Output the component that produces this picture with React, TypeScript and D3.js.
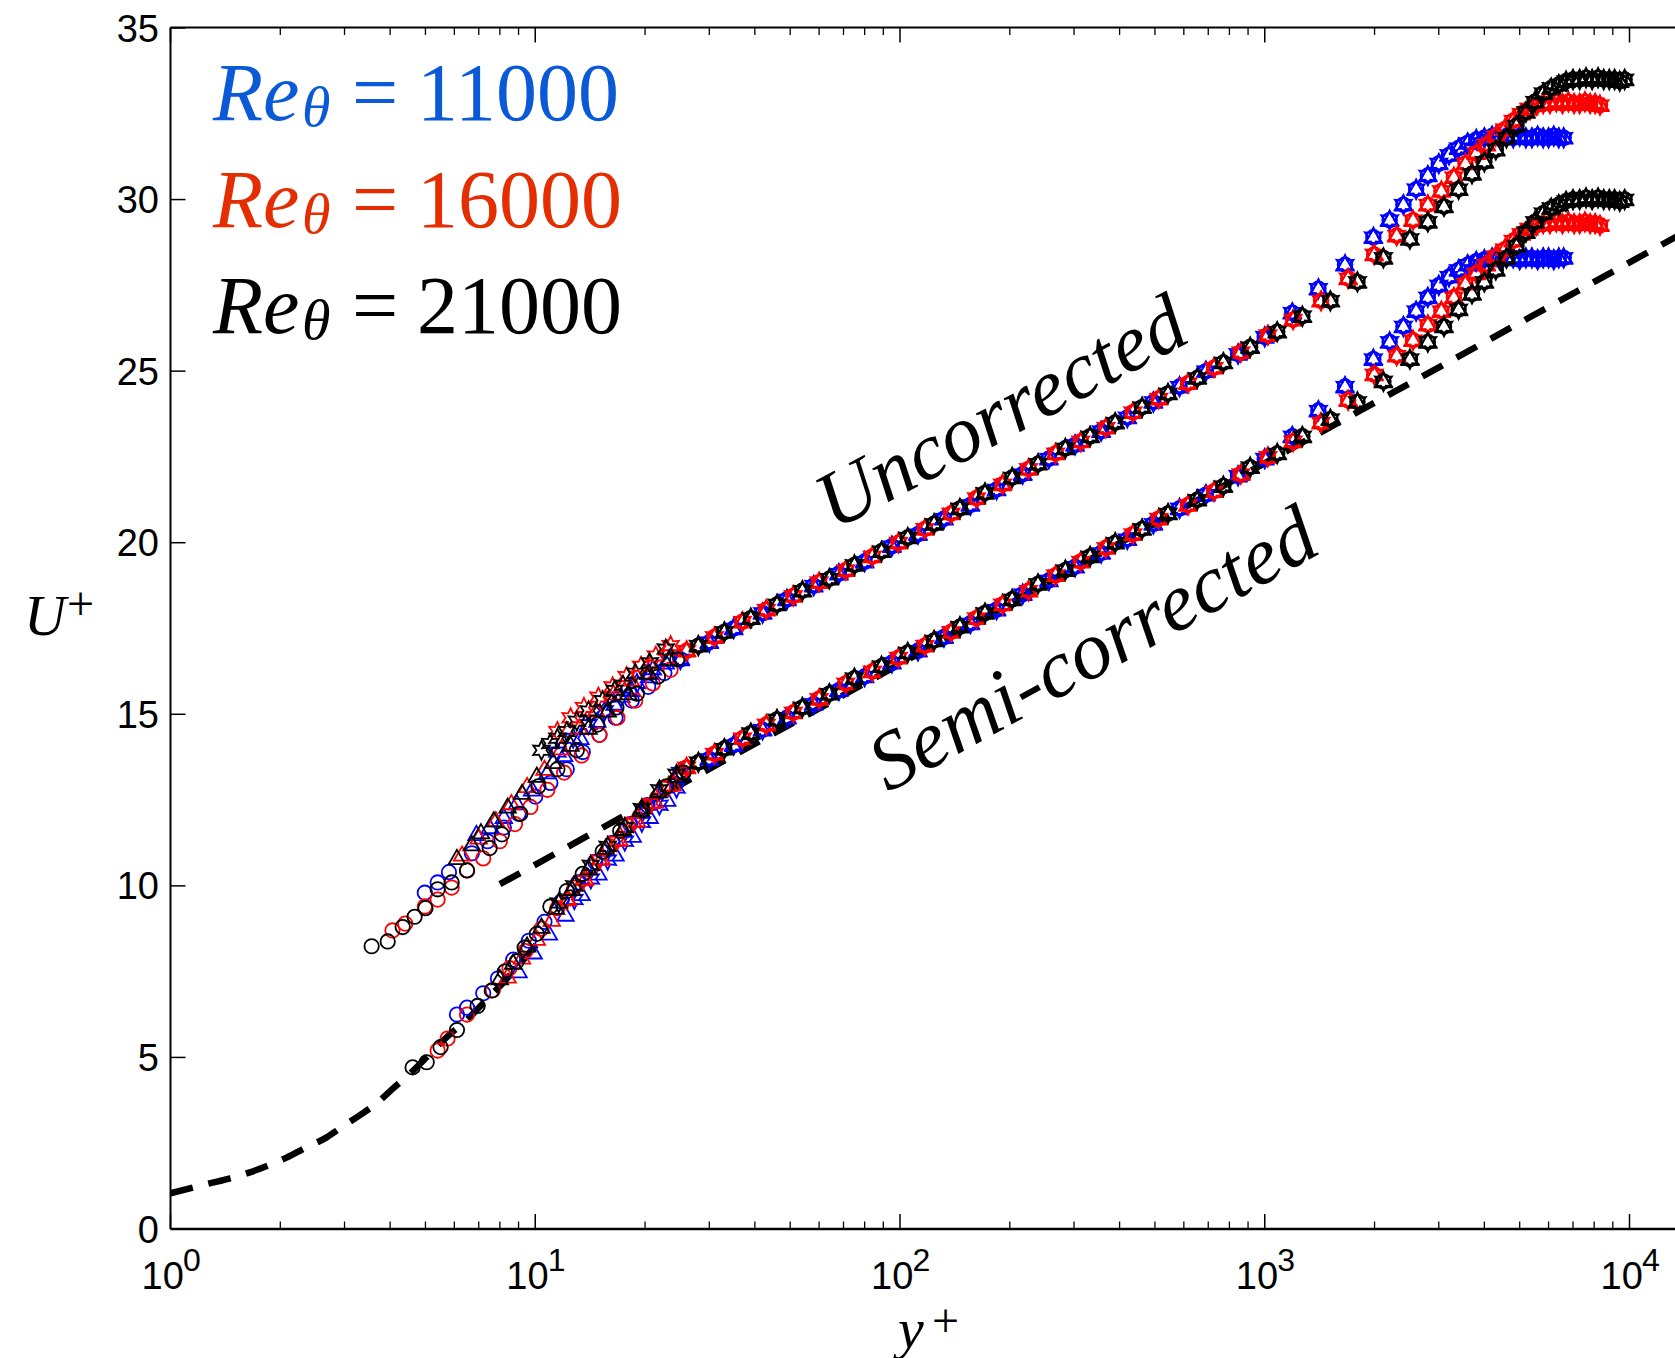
import React from 'react';
import * as d3 from 'd3';

// ---------------- DATA ----------------
const reLabels = ['11000', '16000', '21000'];
const markerColors = ['#0000ff', '#ff0000', '#000000'];
const legendColors = ['#0a5ad8', '#e42d00', '#000000'];
const yTicks = [0, 5, 10, 15, 20, 25, 30, 35];
const xDecades = [0, 1, 2, 3, 4];

// outer region: all three probes (circle, triangle, star) at the same y+
const yOuterBlue = [25, 30, 35, 42, 49, 58, 68, 80, 95, 112, 132, 156, 184, 217, 256, 302, 356, 420, 495, 584, 690, 845, 1000, 1190, 1403, 1660, 1985, 2200, 2400, 2600, 2800, 3000, 3200, 3400, 3600, 3800, 4000, 4200, 4400, 4600, 4800, 5000, 5200, 5400, 5600, 5800, 6000, 6200, 6400, 6600];
const uUncBlue = [16.6, 17.1, 17.5, 17.95, 18.35, 18.75, 19.1, 19.45, 19.9, 20.25, 20.7, 21.1, 21.55, 22.0, 22.45, 22.85, 23.25, 23.65, 24.1, 24.55, 25.0, 25.5, 26.0, 26.7, 27.4, 28.1, 28.9, 29.4, 29.85, 30.3, 30.7, 31.05, 31.3, 31.5, 31.65, 31.75, 31.8, 31.85, 31.8, 31.85, 31.8, 31.85, 31.8, 31.8, 31.85, 31.8, 31.8, 31.85, 31.8, 31.8];
const uSemiBlue = [13.3, 13.7, 14.1, 14.55, 14.9, 15.3, 15.7, 16.1, 16.5, 16.85, 17.25, 17.65, 18.05, 18.5, 18.9, 19.3, 19.7, 20.1, 20.55, 21.0, 21.4, 21.95, 22.45, 23.1, 23.85, 24.55, 25.35, 25.85, 26.3, 26.75, 27.15, 27.5, 27.75, 27.95, 28.1, 28.2, 28.25, 28.3, 28.25, 28.3, 28.3, 28.25, 28.3, 28.3, 28.25, 28.3, 28.3, 28.25, 28.3, 28.3];

const yOuterRed = [26, 31, 37, 43, 51, 60, 71, 84, 99, 117, 138, 162, 191, 225, 267, 313, 367, 435, 512, 616, 726, 860, 1020, 1196, 1427, 1693, 1995, 2300, 2550, 2800, 3050, 3300, 3550, 3800, 4050, 4300, 4550, 4800, 5050, 5300, 5550, 5800, 6050, 6300, 6550, 6800, 7050, 7300, 7550, 7800, 8050, 8300];
const uUncRed = [16.85, 17.25, 17.7, 18.05, 18.45, 18.85, 19.2, 19.6, 20.0, 20.4, 20.85, 21.3, 21.7, 22.15, 22.6, 22.95, 23.35, 23.8, 24.2, 24.65, 25.1, 25.55, 26.05, 26.5, 27.05, 27.7, 28.4, 28.95, 29.4, 29.85, 30.25, 30.65, 31.05, 31.35, 31.6, 31.85, 32.05, 32.3, 32.5, 32.65, 32.75, 32.8, 32.8, 32.85, 32.8, 32.85, 32.8, 32.8, 32.85, 32.8, 32.8, 32.75];
const uSemiRed = [13.45, 13.85, 14.3, 14.7, 15.05, 15.45, 15.9, 16.25, 16.65, 17.0, 17.4, 17.8, 18.2, 18.6, 19.05, 19.45, 19.85, 20.25, 20.7, 21.1, 21.5, 22.0, 22.5, 22.95, 23.5, 24.15, 24.9, 25.45, 25.9, 26.35, 26.75, 27.15, 27.55, 27.85, 28.1, 28.35, 28.55, 28.8, 29.0, 29.15, 29.25, 29.3, 29.3, 29.35, 29.3, 29.35, 29.3, 29.3, 29.35, 29.3, 29.3, 29.25];

const yOuterBlack = [28, 33, 39, 46, 54, 64, 75, 89, 105, 124, 146, 171, 203, 239, 284, 332, 389, 461, 543, 653, 770, 912, 1082, 1268, 1513, 1795, 2115, 2500, 2800, 3100, 3400, 3700, 4000, 4300, 4600, 4900, 5200, 5500, 5800, 6100, 6400, 6700, 7000, 7300, 7600, 7900, 8200, 8500, 8800, 9100, 9400, 9700];
const uUncBlack = [17.0, 17.4, 17.8, 18.2, 18.6, 18.95, 19.35, 19.75, 20.15, 20.55, 21.0, 21.45, 21.9, 22.3, 22.75, 23.1, 23.5, 23.95, 24.35, 24.8, 25.25, 25.7, 26.15, 26.6, 27.05, 27.6, 28.3, 28.85, 29.35, 29.8, 30.3, 30.75, 31.1, 31.45, 31.8, 32.15, 32.55, 32.85, 33.1, 33.25, 33.35, 33.45, 33.5, 33.5, 33.55, 33.5, 33.55, 33.5, 33.5, 33.5, 33.45, 33.5];
const uSemiBlack = [13.6, 14.0, 14.45, 14.85, 15.2, 15.6, 16.05, 16.4, 16.8, 17.15, 17.55, 17.95, 18.35, 18.8, 19.2, 19.6, 20.0, 20.4, 20.85, 21.25, 21.65, 22.2, 22.6, 23.1, 23.6, 24.1, 24.7, 25.35, 25.85, 26.3, 26.8, 27.25, 27.6, 27.95, 28.3, 28.65, 29.05, 29.35, 29.6, 29.75, 29.85, 29.95, 30.0, 30.0, 30.05, 30.0, 30.05, 30.0, 30.0, 30.0, 29.95, 30.0];

// near-wall region, uncorrected  [y+, U+]
const uncCircBlue = [[4.98, 9.8], [5.4, 10.1], [5.8, 10.4], [6.7, 10.95], [7.4, 11.3], [8.2, 11.7], [9.0, 12.1], [10, 12.6], [11, 13.0], [12.2, 13.4], [13.5, 13.9], [15, 14.4], [16.6, 14.9], [18.4, 15.4], [20.4, 15.8], [22.6, 16.2]];
const uncTriBlue = [[6.9, 11.5], [7.5, 11.7], [8.2, 12.0], [8.9, 12.4], [9.8, 12.8], [10.8, 13.3], [12, 13.8], [13.3, 14.3], [14.8, 14.8], [16.5, 15.3], [18.4, 15.7], [20.5, 16.1], [22.8, 16.5]];
const uncStarBlue = [[11.5, 13.9], [12.7, 14.3], [14, 14.7], [15.5, 15.1], [17.2, 15.5], [19, 15.9], [21, 16.3], [23.3, 16.6]];
const uncCircRed = [[4.06, 8.7], [4.4, 8.9], [4.98, 9.4], [5.4, 9.6], [5.9, 9.95], [6.5, 10.45], [7.2, 10.8], [8.0, 11.3], [8.8, 11.8], [9.7, 12.3], [10.8, 12.8], [12, 13.3], [13.4, 13.8], [15, 14.4], [16.8, 14.9], [18.8, 15.4], [21, 15.9], [23.5, 16.3]];
const uncTriRed = [[6.3, 10.9], [7.0, 11.4], [7.8, 11.9], [8.6, 12.4], [9.5, 12.9], [10.6, 13.4], [11.8, 14.0], [13.2, 14.6], [14.7, 15.1], [16.4, 15.6], [18.3, 16.0], [20.5, 16.5], [23, 16.9]];
const uncStarRed = [[11.5, 14.5], [12.5, 14.9], [13.6, 15.2], [14.9, 15.5], [16.3, 15.8], [17.8, 16.1], [19.5, 16.4], [21.4, 16.7], [23.5, 17.0]];
const uncCircBlack = [[3.56, 8.24], [3.94, 8.38], [4.33, 8.8], [4.67, 9.1], [5.0, 9.35], [5.4, 9.9], [5.9, 10.1], [6.5, 10.45], [7.5, 11.1], [8.1, 11.5], [9.1, 12.1], [10.2, 12.9], [11.5, 13.4], [13, 13.95], [14.8, 14.7], [16.7, 15.2], [19, 15.6], [21.7, 16.1], [24.5, 16.6]];
const uncTriBlack = [[6.1, 10.8], [6.7, 11.2], [7.1, 11.55], [7.7, 11.9], [8.4, 12.3], [9.2, 12.7], [10.1, 13.2], [11.2, 13.6], [12.5, 14.1], [14, 14.6], [15.8, 15.1], [18, 15.6], [20.5, 16.2], [23.3, 16.6]];
const uncStarBlack = [[10.4, 13.95], [11, 14.15], [11.5, 14.3], [12.2, 14.5], [13.0, 14.8], [14.0, 15.1], [15.3, 15.4], [16.5, 15.7], [17.4, 15.85], [18.8, 16.2], [20.6, 16.5], [22.8, 16.9]];

// near-wall region, semi-corrected  [y+, U+]
const semiCircBlue = [[6.1, 6.25], [6.5, 6.45], [7.2, 6.87], [7.9, 7.3], [8.7, 7.85], [9.6, 8.4], [10.6, 8.95], [11.8, 9.55], [13.1, 10.1], [14.6, 10.7], [16.3, 11.25], [18.2, 11.8], [20.3, 12.35], [22.7, 12.85]];
const semiTriBlue = [[9.0, 7.5], [9.9, 8.05], [10.9, 8.6], [12.1, 9.15], [13.4, 9.75], [14.9, 10.35], [16.6, 10.9], [18.5, 11.45], [20.6, 12.0], [23, 12.5]];
const semiStarBlue = [[12.8, 9.6], [14.2, 10.2], [15.8, 10.75], [17.6, 11.3], [19.6, 11.85], [21.9, 12.35], [24.4, 12.85]];
const semiCircRed = [[5.4, 5.2], [5.75, 5.55], [6.5, 6.25], [7.65, 6.96], [8.5, 7.6], [9.4, 8.1], [10.4, 8.75], [11.5, 9.35], [12.8, 9.95], [14.3, 10.55], [16, 11.15], [17.9, 11.75], [20, 12.3], [22.4, 12.85], [25, 13.3]];
const semiTriRed = [[8.4, 7.35], [9.2, 7.9], [10.1, 8.45], [11.1, 9.0], [12.3, 9.6], [13.7, 10.2], [15.2, 10.8], [17, 11.35], [19, 11.9], [21.3, 12.45], [23.8, 12.95]];
const semiStarRed = [[12.2, 9.6], [13.5, 10.15], [15, 10.75], [16.7, 11.3], [18.6, 11.85], [20.8, 12.4], [23.2, 12.9]];
const semiCircBlack = [[4.61, 4.71], [5.04, 4.86], [5.5, 5.3], [6.1, 5.8], [6.95, 6.5], [7.6, 6.95], [8.25, 7.5], [8.9, 7.8], [9.35, 8.2], [10.1, 8.6], [11, 9.4], [12.2, 9.85], [13.5, 10.35], [15.3, 11.0], [17.1, 11.6], [19.7, 12.2], [22.9, 12.9], [25.5, 13.3]];
const semiTriBlack = [[8.0, 7.3], [8.7, 7.75], [9.5, 8.25], [10.4, 8.8], [11.4, 9.35], [12.6, 9.9], [14, 10.5], [15.6, 11.1], [17.4, 11.65], [19.5, 12.2], [21.8, 12.75], [24.4, 13.2]];
const semiStarBlack = [[11.6, 9.5], [12.8, 10.0], [14.2, 10.6], [15.8, 11.15], [17.6, 11.7], [19.6, 12.25], [21.9, 12.8], [24.4, 13.25]];

// reference curves (dashed)
const nearWallCurve = [[1, 1.04], [1.28, 1.33], [1.45, 1.47], [1.65, 1.65], [1.83, 1.83], [2.08, 2.08], [2.36, 2.38], [2.68, 2.67], [2.91, 2.93], [3.3, 3.31], [3.67, 3.66], [4.07, 4.09], [4.4, 4.4], [4.82, 4.8], [5.24, 5.2], [5.8, 5.65], [6.5, 6.1], [7.3, 6.65], [8.2, 7.2], [9.2, 7.8], [10.3, 8.4]];
const logLawLine = [[8, 10.05], [20000, 29.93]];

// ---------------- LAYOUT ----------------
const W = 1675;
const H = 1358;
const X0 = 170.5;
const X4 = 1629.5;
const YTOP = 27.5;
const YBOT = 1229;

const x = d3.scaleLog().domain([1, 1e4]).range([X0, X4]);
const y = d3.scaleLinear().domain([0, 35]).range([YBOT, 28]);

const zip = (ys: number[], us: number[]) => ys.map((v, i) => [v, us[i]]);

const triPath = (() => {
  const r = 9.5;
  const p = d3.path();
  for (let k = 0; k < 3; k++) {
    const a = -Math.PI / 2 + (k * 2 * Math.PI) / 3;
    if (k === 0) p.moveTo(r * Math.cos(a), r * Math.sin(a) + 1);
    else p.lineTo(r * Math.cos(a), r * Math.sin(a) + 1);
  }
  p.closePath();
  return p.toString();
})();

const starPath = (() => {
  const ro = 9.5;
  const ri = 5;
  const p = d3.path();
  for (let k = 0; k < 12; k++) {
    const a = -Math.PI / 2 + (k * Math.PI) / 6;
    const r = k % 2 === 0 ? ro : ri;
    if (k === 0) p.moveTo(r * Math.cos(a), r * Math.sin(a));
    else p.lineTo(r * Math.cos(a), r * Math.sin(a));
  }
  p.closePath();
  return p.toString();
})();

type Pt = number[];

function Marks({ pts, shape, color, sw }: { pts: Pt[]; shape: string; color: string; sw: number }) {
  return (
    <g fill="none" stroke={color} strokeWidth={sw}>
      {pts.map((p, i) =>
        shape === 'circle' ? (
          <circle key={i} cx={x(p[0])} cy={y(p[1])} r={7.2} />
        ) : (
          <path key={i} d={shape === 'tri' ? triPath : starPath} transform={`translate(${x(p[0])},${y(p[1])})`} />
        )
      )}
    </g>
  );
}

const series = [
  {
    color: markerColors[0],
    outer: [zip(yOuterBlue, uUncBlue), zip(yOuterBlue, uSemiBlue)],
    circ: [uncCircBlue, semiCircBlue],
    tri: [uncTriBlue, semiTriBlue],
    star: [uncStarBlue, semiStarBlue],
  },
  {
    color: markerColors[1],
    outer: [zip(yOuterRed, uUncRed), zip(yOuterRed, uSemiRed)],
    circ: [uncCircRed, semiCircRed],
    tri: [uncTriRed, semiTriRed],
    star: [uncStarRed, semiStarRed],
  },
  {
    color: markerColors[2],
    outer: [zip(yOuterBlack, uUncBlack), zip(yOuterBlack, uSemiBlack)],
    circ: [uncCircBlack, semiCircBlack],
    tri: [uncTriBlack, semiTriBlack],
    star: [uncStarBlack, semiStarBlack],
  },
];

const line = d3
  .line<number[]>()
  .x((d) => x(d[0]))
  .y((d) => y(d[1]))
  .curve(d3.curveMonotoneX);

const sansFont = "'Liberation Sans', Arial, Helvetica, sans-serif";
const serifFont = "'Liberation Serif', 'Times New Roman', Times, serif";

export default function App() {
  const minorTicks: number[] = [];
  for (let d = 0; d < 5; d++) for (let m = 2; m <= 9; m++) minorTicks.push(m * Math.pow(10, d));
  const majors = xDecades.map((d) => Math.pow(10, d));

  return (
    <svg
      width={W}
      height={H}
      viewBox={`0 0 ${W} ${H}`}
      style={{ position: 'absolute', left: 0, top: 0, background: '#fff' }}
    >
      <defs>
        <clipPath id="plotClip">
          <rect x={X0} y={YTOP} width={W - X0 + 20} height={YBOT - YTOP} />
        </clipPath>
      </defs>
      <rect x={0} y={0} width={W} height={H} fill="#fff" />

      {/* dashed reference curves */}
      <g clipPath="url(#plotClip)" fill="none" stroke="#000" strokeWidth={6.5} strokeDasharray="23 16">
        <path d={line(nearWallCurve) || ''} />
        <path d={line(logLawLine) || ''} />
      </g>

      {/* data markers */}
      <g clipPath="url(#plotClip)">
        {series.map((s, si) => (
          <g key={si}>
            {[0, 1].map((g) => (
              <g key={g}>
                <Marks pts={s.circ[g]} shape="circle" color={s.color} sw={1.8} />
                <Marks pts={s.tri[g]} shape="tri" color={s.color} sw={1.8} />
                <Marks pts={s.star[g]} shape="star" color={s.color} sw={1.8} />
                <Marks pts={s.outer[g]} shape="circle" color={s.color} sw={2.1} />
                <Marks pts={s.outer[g]} shape="tri" color={s.color} sw={2.1} />
                <Marks pts={s.outer[g]} shape="star" color={s.color} sw={2.1} />
              </g>
            ))}
          </g>
        ))}
      </g>

      {/* axes */}
      <g stroke="#000" fill="none">
        <line x1={X0} x2={W + 10} y1={YTOP} y2={YTOP} strokeWidth={2} />
        <line x1={X0} x2={W + 10} y1={YBOT} y2={YBOT} strokeWidth={2.5} />
        <line x1={X0} x2={X0} y1={YTOP} y2={YBOT} strokeWidth={2} />
        {majors.map((v, i) => (
          <g key={'M' + i} strokeWidth={1.5}>
            <line x1={x(v)} x2={x(v)} y1={YBOT} y2={YBOT - 15} />
            <line x1={x(v)} x2={x(v)} y1={YTOP} y2={YTOP + 15} />
          </g>
        ))}
        {minorTicks.map((v, i) => (
          <g key={'m' + i} strokeWidth={1.3}>
            <line x1={x(v)} x2={x(v)} y1={YBOT} y2={YBOT - 7.5} />
            <line x1={x(v)} x2={x(v)} y1={YTOP} y2={YTOP + 7.5} />
          </g>
        ))}
        {yTicks.map((t, i) => (
          <line key={'y' + i} x1={X0} x2={X0 + 15} y1={y(t)} y2={y(t)} strokeWidth={1.5} />
        ))}
      </g>

      {/* y tick labels */}
      <g fontFamily={sansFont} fontSize={38} fill="#000" textAnchor="end">
        {yTicks.map((t, i) => (
          <text key={i} x={159} y={y(t) + 13.6}>
            {t}
          </text>
        ))}
      </g>

      {/* x tick labels */}
      <g fontFamily={sansFont} fill="#000">
        {xDecades.map((d, i) => {
          const cx = x(Math.pow(10, d));
          return (
            <g key={i}>
              <text x={cx - 29} y={1289} fontSize={38}>
                10
              </text>
              <text x={cx + 12.5} y={1271} fontSize={32}>
                {d}
              </text>
            </g>
          );
        })}
      </g>

      {/* axis labels */}
      <g fontFamily={serifFont} fill="#000">
        <text x={24} y={635} fontSize={58} fontStyle="italic">
          U
        </text>
        <text x={67} y={620} fontSize={48}>
          +
        </text>
        <text x={898} y={1348} fontSize={58} fontStyle="italic">
          y
        </text>
        <text x={932} y={1337} fontSize={48}>
          +
        </text>
      </g>

      {/* legend */}
      <g fontFamily={serifFont}>
        {reLabels.map((lab, i) => {
          const by = 120 + i * 106.7;
          return (
            <g key={i} fill={legendColors[i]}>
              <text x={213} y={by} fontSize={82} fontStyle="italic">
                Re
              </text>
              <text x={302} y={by + 6} fontSize={58} fontStyle="italic">
                θ
              </text>
              <text x={352} y={by} fontSize={82}>
                =
              </text>
              <text x={417} y={by} fontSize={82}>
                {lab}
              </text>
            </g>
          );
        })}
      </g>

      {/* curve annotations */}
      <g fontFamily={serifFont} fontStyle="italic" fill="#000">
        <text fontSize={81} transform="translate(834,531) rotate(-28)">Uncorrected</text>
        <text fontSize={82} transform="translate(888,793) rotate(-29)">Semi-corrected</text>
      </g>
    </svg>
  );
}
